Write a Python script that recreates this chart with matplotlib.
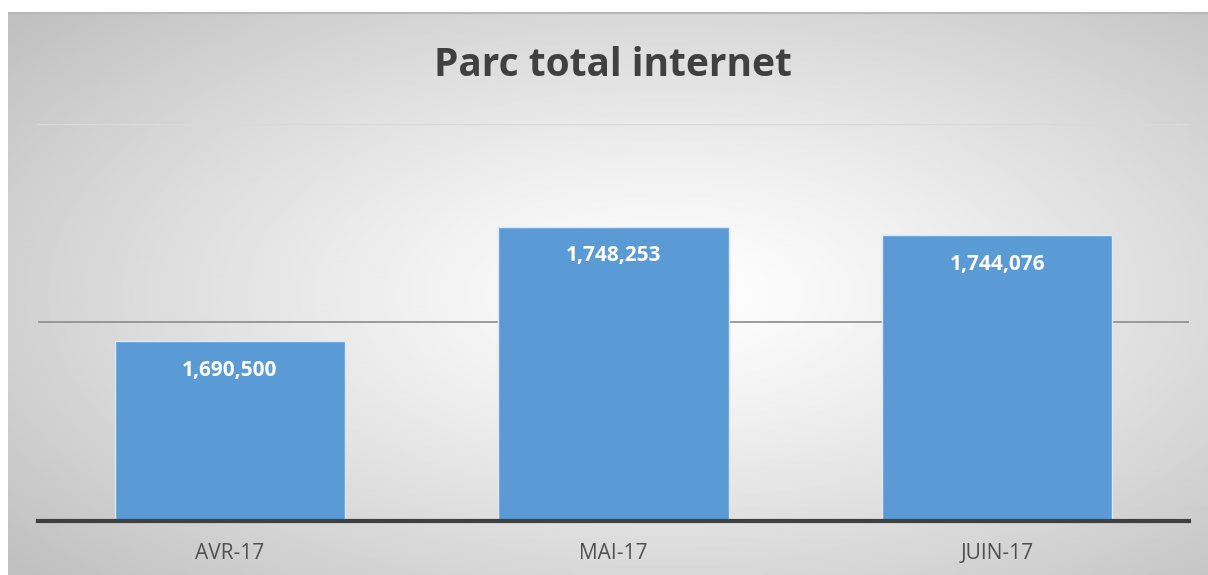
import matplotlib.pyplot as plt
import numpy as np

months = ['AVR-17', 'MAI-17', 'JUIN-17']
parc = [1690500, 1748253, 1744076]
title = 'Parc total internet'

plt.rcParams['font.family'] = ['Open Sans', 'DejaVu Sans']

W, H = 1208, 575
fig = plt.figure(figsize=(W / 100, H / 100), dpi=100)

# radial gradient background (white in the middle, grey at the corners)
bg = fig.add_axes([8 / W, 0, 1 - 8 / W, 1 - 12 / H])
yy, xx = np.mgrid[0:1:300j, 0:1:600j]
r = np.sqrt(((xx - 0.55) / 0.72) ** 2 + ((yy - 0.5) / 0.75) ** 2)
r = np.clip(r, 0, 1)
shade = 1 - 0.25 * r ** 1.2
bg.imshow(shade, cmap='gray', vmin=0, vmax=1, aspect='auto',
          extent=[0, 1, 0, 1], interpolation='bilinear')
bg.set_xlim(0, 1)
bg.set_ylim(0, 1)
bg.axis('off')
bg.plot([0, 1], [0.998, 0.998], color='#b8b8b8', lw=1.5)

ax = fig.add_axes([38 / W, (H - 521) / H, (1189 - 38) / W, (521 - 124) / H])
ax.patch.set_visible(False)
x = np.arange(len(months))
ax.set_ylim(1600000, 1800000)
ax.set_xlim(-0.5, 2.5)
ax.axhline(1700000, color='#8c8c8c', lw=1.2, zorder=1)
ax.axhline(1800000, color='#d9d9d9', lw=1, zorder=1)
ax.bar(x, parc, width=0.6, color='#5b9bd5', edgecolor='#dbe8f5', lw=1, zorder=2)
ax.axhline(1600000, color='#404040', lw=3, zorder=3, clip_on=False)

for xi, v in zip(x, parc):
    ax.annotate(f'{v:,}', (xi, v), xytext=(0, -21), textcoords='offset points',
                ha='center', va='center', color='white', fontsize=15, fontweight='bold')

ax.set_xticks(x, months)
ax.tick_params(axis='x', length=0, pad=16, labelsize=15, labelcolor='#505050')
ax.set_yticks([])
for s in ax.spines.values():
    s.set_visible(False)

fig.text(613 / W, 1 - 65 / H, title, ha='center', va='center',
         fontsize=28, fontweight='bold', color='#404040')

fig.savefig('out.png', dpi=100)
